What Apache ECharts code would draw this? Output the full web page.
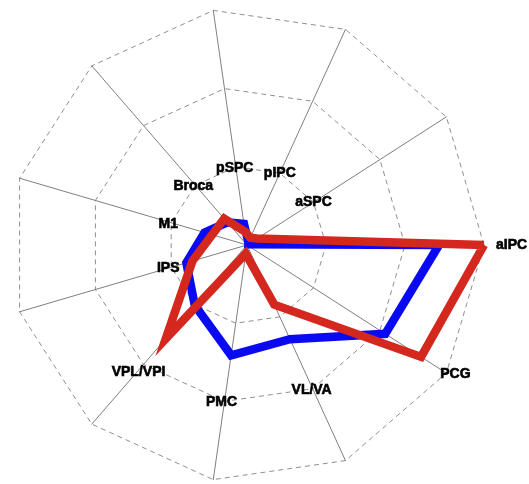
<!DOCTYPE html>
<html>
<head>
<meta charset="utf-8">
<script src="https://cdn.jsdelivr.net/npm/echarts@6/dist/echarts.min.js"></script>
<style>
html,body{margin:0;padding:0;background:#fff;}
#chart{width:529px;height:484px;}
</style>
</head>
<body>
<div id="chart"></div>
<script>
// Regions, counter-clockwise starting at the right (0°)
const regions = ['aIPC','aSPC','pIPC','pSPC','Broca','M1','IPS','VPL/VPI','PMC','VL/VA','PCG'];
// Scale maximum and number of rings
const scaleMax = 3;
// Blue series values
const blueValues = [2.43, 0.02, 0.04, 0.27, 0.38, 0.56, 0.80, 1.01, 1.41, 1.31, 2.08];
// Red series values
const redValues  = [3.00, 0.15, 0.10, 0.17, 0.44, 0.46, 0.72, 1.57, 0.11, 0.83, 2.62];
// Ring on which each region label sits
const labelRing = [3, 1, 1, 1, 1, 1, 1, 2, 2, 2, 3];

const CX = 247, CY = 245, R = 237;
const labelOffsets = {
  'PCG': [9, 1],
  'VPL/VPI': [-5, 8],
  'IPS': [-3, 1],
  'M1': [-3, 1],
  'Broca': [-2, 1],
  'pSPC': [-1, 1],
  'PMC': [-3, 1],
  'VL/VA': [-1, 1]
};

const chart = echarts.init(document.getElementById('chart'), null, {renderer: 'canvas'});
const n = regions.length;
const labelData = regions.map((name, i) => {
  const item = {name: name, value: [labelRing[i], i * 360 / n]};
  if (name === 'aIPC') {
    item.label = {position: 'right', distance: 12};
  } else if (labelOffsets[name]) {
    item.label = {offset: labelOffsets[name]};
  }
  return item;
});

chart.setOption({
  animation: false,
  backgroundColor: '#fff',
  radar: {
    center: [CX, CY],
    radius: R,
    startAngle: 0,
    splitNumber: 3,
    shape: 'polygon',
    indicator: regions.map(name => ({name: name, min: 0, max: scaleMax})),
    axisName: {show: false},
    splitArea: {show: false},
    splitLine: {lineStyle: {color: '#8f8f8f', width: 1, type: [5, 4]}},
    axisLine: {lineStyle: {color: '#808080', width: 1}},
    axisTick: {show: false},
    axisLabel: {show: false}
  },
  polar: {center: [CX, CY], radius: R},
  angleAxis: {type: 'value', min: 0, max: 360, startAngle: 0, clockwise: false, show: false},
  radiusAxis: {type: 'value', min: 0, max: scaleMax, show: false},
  series: [
    {
      type: 'radar',
      symbol: 'none',
      z: 3,
      data: [
        {value: blueValues, lineStyle: {color: '#0a0af2', width: 8.5, join: 'miter'}, itemStyle: {color: '#0a0af2'}},
        {value: redValues, lineStyle: {color: '#d4281f', width: 8.5, join: 'miter'}, itemStyle: {color: '#d4281f'}}
      ]
    },
    {
      type: 'scatter',
      coordinateSystem: 'polar',
      symbolSize: 0,
      z: 5,
      silent: true,
      itemStyle: {opacity: 1},
      data: labelData,
      label: {
        show: true,
        position: 'inside',
        formatter: '{b}',
        color: '#000',
        fontWeight: 'bold',
        fontSize: 14,
        fontFamily: 'Liberation Sans, Arial, sans-serif',
        textBorderColor: '#000',
        textBorderWidth: 0.6
      }
    }
  ]
});
</script>
</body>
</html>
